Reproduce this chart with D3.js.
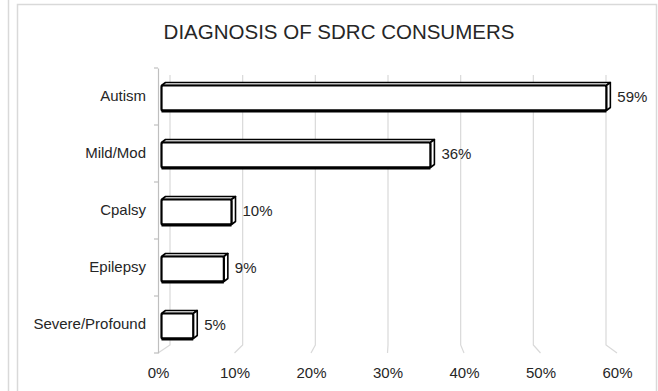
<!DOCTYPE html>
<html>
<head>
<meta charset="utf-8">
<script src="https://cdn.jsdelivr.net/npm/d3@7"></script>
<style>
  body { margin: 0; background: #fff; }
  svg { display: block; font-family: "Liberation Sans", Arial, sans-serif; }
</style>
</head>
<body>
<div id="grafico"></div>
<script>
// datos del grafico
const categorias = ["Autism", "Mild/Mod", "Cpalsy", "Epilepsy", "Severe/Profound"];
const valores = [0.59, 0.36, 0.10, 0.09, 0.05];
const ticksX = [0, 0.1, 0.2, 0.3, 0.4, 0.5, 0.6];
const titulo = "DIAGNOSIS OF SDRC CONSUMERS";

const W = 658, H = 391;

const svg = d3.select("#grafico")
    .append("svg")
    .attr("width", W)
    .attr("height", H);

// marcos grises
svg.append("line").attr("x1", 8.5).attr("x2", 8.5).attr("y1", 0).attr("y2", H)
    .attr("stroke", "#d9d9d9").attr("stroke-width", 1.5);
svg.append("rect").attr("x", 17.5).attr("y", 4.5).attr("width", 639).attr("height", 400)
    .attr("fill", "#fff").attr("stroke", "#d9d9d9").attr("stroke-width", 1.5);

svg.append("text")
    .attr("x", 339).attr("y", 39)
    .attr("text-anchor", "middle")
    .attr("font-size", "20.5px")
    .attr("fill", "#262626")
    .text(titulo);

// escala frontal y escala del plano de fondo (3D)
const x = d3.scaleLinear().domain([0, 0.6]).range([158, 617]);
const xFondo = d3.scaleLinear().domain([0, 0.6]).range([170, 606]);

const y = d3.scaleBand()
    .domain(categorias)
    .range([68, 353])
    .paddingInner(0)
    .paddingOuter(0);

const yFondoTop = 75, yFondoBot = 345, yFrente = 353;

// rejilla del fondo y piso
ticksX.forEach(t => {
    svg.append("polyline")
        .attr("points", `${xFondo(t)},${yFondoTop} ${xFondo(t)},${yFondoBot} ${x(t)},${yFrente}`)
        .attr("fill", "none")
        .attr("stroke", "#d9d9d9")
        .attr("stroke-width", 1.2);
});

// eje vertical
const eje = svg.append("g")
    .attr("transform", `translate(${x(0)},0)`)
    .call(d3.axisLeft(y).tickSize(0).tickPadding(12));
eje.select(".domain").attr("stroke", "#bfbfbf").attr("stroke-width", 1.2);
eje.selectAll("text").attr("font-size", "15px").attr("fill", "#262626")
    .attr("font-family", "Liberation Sans, Arial, sans-serif");
// marcas entre categorias
const bordes = categorias.map(c => y(c)).concat([y.range()[1]]);
bordes.forEach(b => {
    svg.append("line")
        .attr("x1", x(0) - 4).attr("x2", x(0))
        .attr("y1", b).attr("y2", b)
        .attr("stroke", "#bfbfbf").attr("stroke-width", 1.2);
});

// eje horizontal (solo etiquetas)
const ejeX = svg.append("g")
    .attr("transform", `translate(0,${yFrente})`)
    .call(d3.axisBottom(x).tickValues(ticksX).tickFormat(d3.format(".0%")).tickSize(0).tickPadding(14));
ejeX.select(".domain").remove();
ejeX.selectAll("text").attr("font-size", "15px").attr("fill", "#262626")
    .attr("font-family", "Liberation Sans, Arial, sans-serif");

// barras 3D
const altoBarra = 25, dx = 4, dy = -3;
const barras = svg.selectAll(".barra")
    .data(categorias.map((c, i) => ({ cat: c, v: valores[i] })))
    .enter()
    .append("g")
    .attr("class", "barra");

barras.each(function(d) {
    const g = d3.select(this);
    const x0 = x(0) + 3.5;
    const x1 = x(d.v) - dx + 1;
    const y0 = y(d.cat) + y.bandwidth() / 2 - altoBarra / 2 + 1.5;
    const y1 = y0 + altoBarra;
    // cara superior
    g.append("polygon")
        .attr("points", `${x0},${y0} ${x0 + dx},${y0 + dy} ${x1 + dx},${y0 + dy} ${x1},${y0}`)
        .attr("fill", "#fff").attr("stroke", "#000").attr("stroke-width", 1.6)
        .attr("stroke-linejoin", "round");
    // cara lateral
    g.append("polygon")
        .attr("points", `${x1},${y0} ${x1 + dx},${y0 + dy} ${x1 + dx},${y1 + dy} ${x1},${y1}`)
        .attr("fill", "#fff").attr("stroke", "#000").attr("stroke-width", 1.6)
        .attr("stroke-linejoin", "round");
    // cara frontal
    g.append("rect")
        .attr("x", x0).attr("y", y0)
        .attr("width", x1 - x0).attr("height", altoBarra)
        .attr("fill", "#fff").attr("stroke", "#000").attr("stroke-width", 2.2)
        .attr("rx", 1.5);
    // borde inferior grueso
    g.append("line")
        .attr("x1", x0).attr("x2", x1).attr("y1", y1 + 0.5).attr("y2", y1 + 0.5)
        .attr("stroke", "#000").attr("stroke-width", 2.8);
    // etiqueta de valor
    g.append("text")
        .attr("x", x(d.v) + 8)
        .attr("y", y(d.cat) + y.bandwidth() / 2 + 5.5)
        .attr("font-size", "15px")
        .attr("fill", "#262626")
        .text(d3.format(".0%")(d.v));
});
</script>
</body>
</html>
